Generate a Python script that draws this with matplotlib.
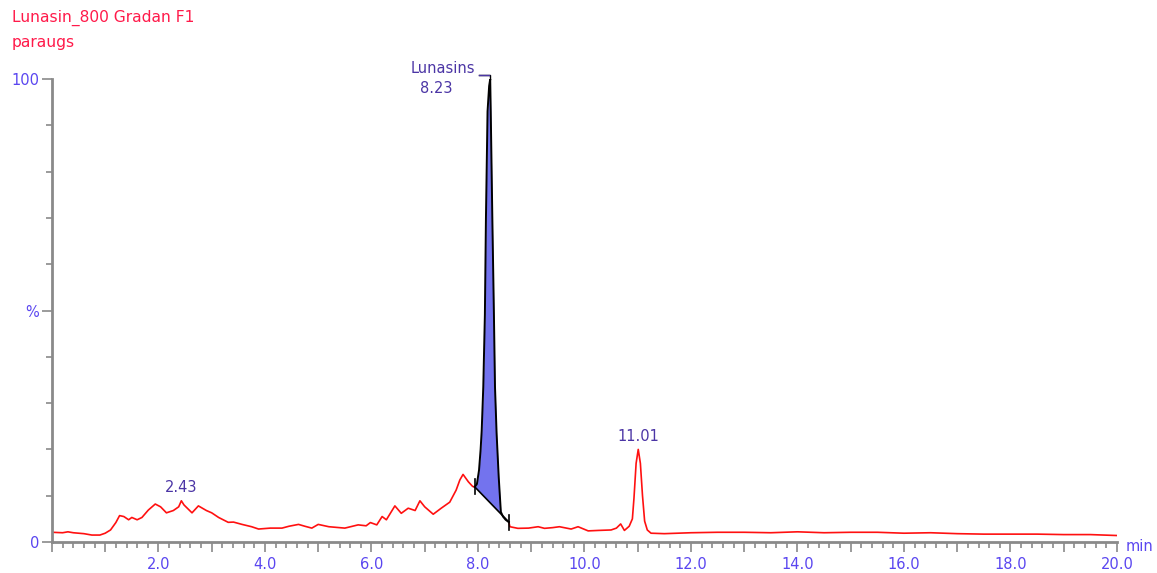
import numpy as np
import matplotlib
matplotlib.use('Agg')
import matplotlib.pyplot as plt
from matplotlib.ticker import MultipleLocator, FuncFormatter

plt.rcParams['font.family'] = ['DejaVu Sans']

# chromatogram trace (time in min, intensity in %)
t = [0.0, 0.2, 0.3, 0.4, 0.6, 0.75, 0.9, 1.0, 1.1, 1.2, 1.27, 1.35, 1.44, 1.5, 1.6, 1.69,
     1.81, 1.94, 2.04, 2.15, 2.28, 2.38, 2.43, 2.48, 2.63, 2.75, 2.9, 3.0, 3.13, 3.31,
     3.41, 3.57, 3.75, 3.88, 4.1, 4.32, 4.45, 4.63, 4.75, 4.88, 5.0, 5.2, 5.5, 5.75,
     5.9, 5.98, 6.1, 6.2, 6.28, 6.44, 6.56, 6.69, 6.82, 6.91, 7.0, 7.16, 7.31, 7.47,
     7.59, 7.66, 7.72, 7.82, 7.9, 7.94, 7.98, 8.02, 8.05, 8.07, 8.10, 8.13, 8.15, 8.18,
     8.21, 8.23, 8.24, 8.27, 8.30, 8.32, 8.35, 8.39, 8.43, 8.47, 8.52, 8.58, 8.6, 8.75,
     8.95, 9.13, 9.25, 9.4, 9.53, 9.75, 9.88, 10.07, 10.26, 10.5, 10.6, 10.68, 10.75,
     10.84, 10.9, 10.93, 10.97, 11.01, 11.05, 11.09, 11.13, 11.18, 11.25, 11.5, 12.0,
     12.5, 13.0, 13.5, 14.0, 14.5, 15.0, 15.5, 16.0, 16.5, 17.0, 17.5, 18.0, 18.5,
     19.0, 19.5, 20.0]
y = [2.1, 2.0, 2.2, 2.0, 1.8, 1.5, 1.5, 1.9, 2.6, 4.2, 5.7, 5.5, 4.8, 5.3, 4.8, 5.3,
     6.9, 8.2, 7.6, 6.3, 6.8, 7.6, 8.9, 8.0, 6.3, 7.8, 6.8, 6.3, 5.3, 4.25,
     4.3, 3.8, 3.3, 2.8, 3.0, 3.0, 3.4, 3.8, 3.4, 3.0, 3.8, 3.3, 3.0, 3.7,
     3.5, 4.2, 3.7, 5.5, 4.8, 7.8, 6.2, 7.3, 6.8, 8.9, 7.6, 6.0, 7.3, 8.6,
     11.2, 13.4, 14.6, 13.0, 12.0, 11.9, 12.5, 15.5, 20.0, 24.0, 33.5, 49.0, 70.0, 93.0,
     98.5, 100.0, 93.0, 70.0, 49.0, 33.5, 23.5, 14.0, 6.5, 5.5, 4.8, 4.3, 3.3, 2.95,
     3.0, 3.3, 2.95, 3.1, 3.3, 2.8, 3.3, 2.4, 2.5, 2.6, 3.0, 3.9, 2.5,
     3.4, 5.0, 9.5, 17.0, 20.0, 17.0, 10.0, 4.5, 2.6, 1.9, 1.8, 2.0,
     2.1, 2.1, 2.0, 2.2, 2.0, 2.1, 2.1, 1.9, 2.0, 1.8, 1.7, 1.7, 1.7,
     1.6, 1.6, 1.4]

peak_start, peak_end = 7.94, 8.58
peak_labels = [(2.43, '2.43'), (11.01, '11.01')]

t = np.array(t)
y = np.array(y)

fig = plt.figure(figsize=(11.57, 5.73), dpi=100)
ax = fig.add_axes([0.0449, 0.0541, 0.9205, 0.808])

tick_col = '#5a46f0'
ann_col = '#4b35a5'
spine_col = '#8a8a8a'

m = (t >= peak_start) & (t <= peak_end)
pre = t <= peak_start
post = t >= peak_end
ax.plot(t[pre], y[pre], color='#ff1010', lw=1.2)
ax.plot(t[post], y[post], color='#ff1010', lw=1.2)

# integrated peak
yb0 = np.interp(peak_start, t, y)
yb1 = np.interp(peak_end, t, y)
base = np.interp(t[m], [peak_start, peak_end], [yb0, yb1])
ax.fill_between(t[m], base, y[m], color='#7373ee', lw=0)
ax.plot(t[m], y[m], color='black', lw=1.4)
ax.plot([peak_start, peak_end], [yb0, yb1], color='black', lw=1.2)
for tx, ty in [(peak_start, yb0), (peak_end, yb1)]:
    ax.plot([tx, tx], [ty - 1.6, ty + 1.6], color='black', lw=1.2)

# labels
for tx, txt in peak_labels:
    ax.text(tx, np.interp(tx, t, y) + 1.2, txt, color=ann_col, fontsize=10.5,
            ha='center', va='bottom')
ax.plot([8.02, 8.22, 8.22], [100.9, 100.9, 100], color='black', lw=1, clip_on=False)
ax.plot([8.02, 8.21], [100.9, 100.9], color=ann_col, lw=1, clip_on=False)
ax.text(7.95, 102.3, 'Lunasins', color=ann_col, fontsize=10.5, ha='right', va='center')
ax.text(7.22, 98.0, '8.23', color=ann_col, fontsize=10.5, ha='center', va='center')

ax.set_xlim(0, 20)
ax.set_ylim(0, 100)
for s in ['top', 'right']:
    ax.spines[s].set_visible(False)
for s in ['left', 'bottom']:
    ax.spines[s].set_color(spine_col)
    ax.spines[s].set_linewidth(2)

ax.xaxis.set_major_locator(MultipleLocator(1))
ax.xaxis.set_minor_locator(MultipleLocator(0.2))
ax.xaxis.set_major_formatter(FuncFormatter(
    lambda v, p: f'{v:.1f}' if round(v) % 2 == 0 and v > 0 else ''))
ax.set_yticks([0, 50, 100])
ax.set_yticklabels(['0', '%', '100'])
ax.yaxis.set_minor_locator(MultipleLocator(10))
ax.tick_params(which='major', length=7, width=1.2, color=spine_col,
               labelcolor=tick_col, labelsize=10.5)
ax.tick_params(which='minor', length=4, width=1.2, color=spine_col)
ax.tick_params(axis='y', pad=2)
ax.text(1.008, -0.01, 'min', transform=ax.transAxes, color=tick_col, fontsize=10.5,
        ha='left', va='center')

fig.text(0.0104, 0.968, 'Lunasin_800 Gradan F1', color='#ff1a4a', fontsize=11.2,
         ha='left', va='center')
fig.text(0.0104, 0.926, 'paraugs', color='#ff1a4a', fontsize=11.2,
         ha='left', va='center')

fig.savefig('out.png', dpi=100)
